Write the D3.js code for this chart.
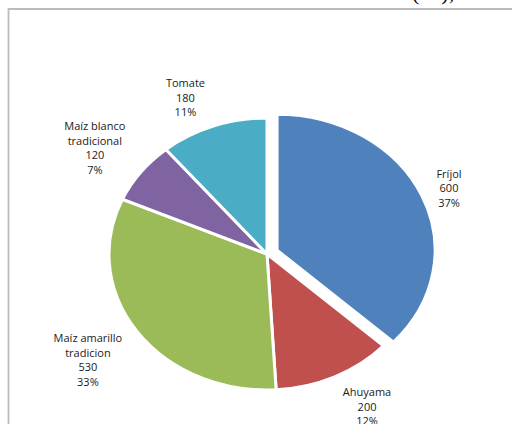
<!DOCTYPE html>
<html><head><meta charset="utf-8">
<script src="https://cdn.jsdelivr.net/npm/d3@7/dist/d3.min.js"></script>
<style>html,body{margin:0;padding:0;background:#fff;overflow:hidden}</style>
</head><body>
<svg id="c" width="512" height="424"></svg>
<script>
const categories = ["Fríjol", "Ahuyama", "Maíz amarillo tradicion", "Maíz blanco tradicional", "Tomate"];
const labelLines = [["Fríjol"], ["Ahuyama"], ["Maíz amarillo", "tradicion"], ["Maíz blanco", "tradicional"], ["Tomate"]];
const values = [600, 200, 530, 120, 180];
const percents = ["37%", "12%", "33%", "7%", "11%"];
const colors = ["#4F81BD", "#C0504D", "#9BBB59", "#8064A2", "#4BACC6"];
const explode = [11, 0, 0, 0, 0];
// label placement: radius factor and angle shift (degrees) relative to slice middle
const labelRadius = [1.25, 1.29, 1.375, 1.34, 1.26];
const labelShift = [0.9, -4, 0.3, -1.4, -4.3];

const svg = d3.select("#c");
// partial text from the page above
svg.append("text").attr("x", 412).attr("y", 0).attr("font-family", "Liberation Serif")
  .attr("font-size", 22).attr("fill", "#000").text("(…),");
// frame
svg.append("path").attr("d", "M8.5,430 L8.5,9 L512,9").attr("fill", "none")
  .attr("stroke", "#bcbcbc").attr("stroke-width", 1.8);

const cx = 267, cy = 254, rx = 158, ry = 136;
const pie = d3.pie().sort(null).value(d => d)(values);
const arc = d3.arc().innerRadius(0).outerRadius(rx);

const g = svg.append("g").attr("transform", `translate(${cx},${cy}) scale(1,${ry/rx})`);
g.selectAll("path").data(pie).join("path")
  .attr("d", arc)
  .attr("fill", (d, i) => colors[i])
  .attr("stroke", "#fff").attr("stroke-width", 3)
  .attr("vector-effect", "non-scaling-stroke")
  .attr("transform", (d, i) => {
    const a = (d.startAngle + d.endAngle) / 2;
    return `translate(${Math.sin(a) * explode[i]},${-Math.cos(a) * explode[i]})`;
  });

const lh = 14.5;
pie.forEach((d, i) => {
  const a = (d.startAngle + d.endAngle) / 2 + labelShift[i] * Math.PI / 180;
  const k = labelRadius[i];
  const x = cx + Math.sin(a) * rx * k;
  const y = cy - Math.cos(a) * ry * k;
  const lines = labelLines[i].concat([String(values[i]), percents[i]]);
  const t = svg.append("text").attr("text-anchor", "middle")
    .attr("font-family", "'Open Sans', sans-serif").attr("font-size", 11).attr("fill", "#1a1a1a");
  const y0 = y - (lines.length - 1) * lh / 2 + 4;
  lines.forEach((s, j) => t.append("tspan").attr("x", x).attr("y", y0 + j * lh).text(s));
});
</script>
</body></html>
